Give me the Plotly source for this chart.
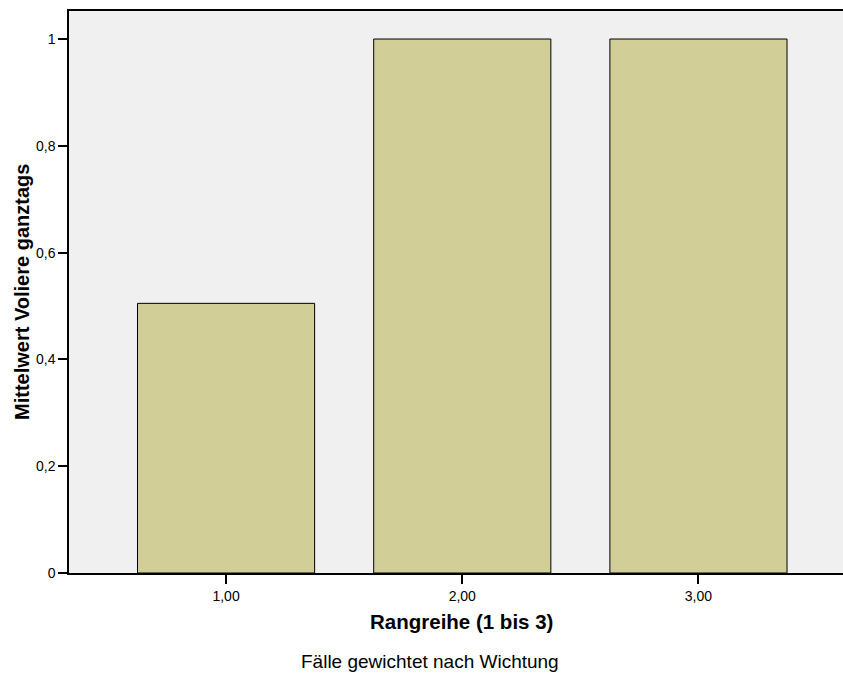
import plotly.graph_objects as go

categories = [1, 2, 3]
tick_labels = ["1,00", "2,00", "3,00"]
values = [0.505, 1.0, 1.0]
y_ticks = [0, 0.2, 0.4, 0.6, 0.8, 1.0]
y_tick_labels = ["0", "0,2", "0,4", "0,6", "0,8", "1"]

font = "Arial, Liberation Sans, sans-serif"

fig = go.Figure()
fig.add_trace(go.Bar(
    x=categories, y=values, width=0.75,
    marker=dict(color="#D2CE98", line=dict(color="#000000", width=1)),
))

fig.update_layout(
    width=843, height=675,
    margin=dict(l=69, r=0, t=11, b=102),
    paper_bgcolor="white", plot_bgcolor="#F0F0F0",
    showlegend=False,
    font=dict(family=font, size=14, color="#000000"),
    xaxis=dict(
        range=[0.335, 3.612], tickvals=categories, ticktext=tick_labels,
        ticks="outside", ticklen=9, tickcolor="#000000", tickwidth=1.5,
        showline=True, linecolor="#000000", linewidth=1.5, mirror=True,
        showgrid=False, zeroline=False,
        tickfont=dict(size=14, family=font),
    ),
    yaxis=dict(
        range=[0, 1.0525], tickvals=y_ticks, ticktext=y_tick_labels,
        ticks="outside", ticklen=9, tickcolor="#000000", tickwidth=1.5,
        showline=True, linecolor="#000000", linewidth=1.5,
        showgrid=False, zeroline=False,
        tickfont=dict(size=14, family=font),
    ),
    annotations=[
        dict(text="<b>Rangreihe (1 bis 3)</b>", xref="paper", yref="paper",
             x=0, y=0, xshift=461 - 69, yshift=-(621 - 573), xanchor="center", yanchor="middle",
             showarrow=False, font=dict(size=20.5, family=font)),
        dict(text="<b>Mittelwert Voliere ganztags</b>", xref="paper", yref="paper",
             x=0, y=0.5, xshift=-(69 - 22), xanchor="center", yanchor="middle",
             textangle=-90, showarrow=False, font=dict(size=20, family=font)),
        dict(text="Fälle gewichtet nach Wichtung", xref="paper", yref="paper",
             x=0, y=0, xshift=430 - 69, yshift=-(661 - 573), xanchor="center", yanchor="middle",
             showarrow=False, font=dict(size=19, family=font)),
    ],
)

fig.write_html(
    "out.html",
    config={"displayModeBar": False},
    post_script=(
        "document.body.style.margin='0px';"
        "document.body.style.overflow='hidden';"
        "document.documentElement.style.overflow='hidden';"
    ),
)
